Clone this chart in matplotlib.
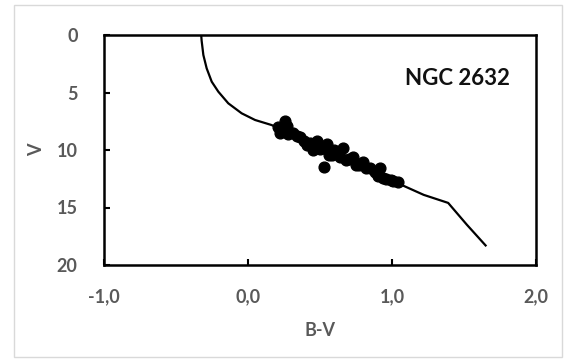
import matplotlib
matplotlib.use("Agg")
import matplotlib.pyplot as plt
from matplotlib.patches import Rectangle

plt.rcParams['font.family'] = ['Lato', 'DejaVu Sans']

# isochrone (B-V, V)
iso_bv = [-0.325, -0.322, -0.31, -0.287, -0.252, -0.206, -0.137, -0.044,
          0.049, 0.164, 0.30, 0.45, 0.60, 0.75, 0.90, 1.06, 1.22, 1.39,
          1.52, 1.65]
iso_v = [0.0, 0.5, 1.74, 2.9, 4.06, 4.93, 5.94, 6.81,
         7.39, 7.83, 8.6, 9.5, 10.4, 11.3, 12.1, 13.0, 13.9, 14.6,
         16.5, 18.3]

# cluster members
star_bv = [0.26, 0.27, 0.21, 0.22, 0.24, 0.28, 0.31, 0.34, 0.36, 0.39, 0.41,
           0.43, 0.45, 0.48, 0.50, 0.52, 0.55, 0.56, 0.58, 0.60, 0.62, 0.64,
           0.66, 0.68, 0.53, 0.70, 0.73, 0.75, 0.77, 0.80, 0.82, 0.85, 0.88,
           0.90, 0.92, 0.94, 0.96, 0.99, 1.01, 1.04]
star_v = [7.5, 7.9, 8.0, 8.5, 8.2, 8.6, 8.5, 8.8, 8.9, 9.2, 9.6,
          9.4, 10.0, 9.2, 9.9, 9.8, 9.5, 10.4, 10.4, 10.0, 10.3, 10.6,
          9.8, 10.9, 11.5, 10.8, 10.6, 11.3, 11.3, 11.0, 11.6, 11.6, 11.9,
          12.3, 11.6, 12.4, 12.5, 12.6, 12.7, 12.8]

xticks = [-1.0, 0.0, 1.0, 2.0]
xtick_labels = ['-1,0', '0,0', '1,0', '2,0']
yticks = [0, 5, 10, 15, 20]

fig = plt.figure(figsize=(5.68, 3.61), dpi=100)
fig.patches.append(Rectangle((14 / 568, 4 / 361), 548 / 568, 352 / 361,
                             transform=fig.transFigure, fill=False,
                             edgecolor='#d9d9d9', linewidth=1))
ax = fig.add_axes([104 / 568, 1 - 265 / 361, 432 / 568, 230 / 361])

ax.plot(iso_bv, iso_v, color='black', linewidth=1.6, zorder=2)
ax.scatter(star_bv, star_v, s=60, color='black', zorder=3)

ax.set_xlim(-1.0, 2.0)
ax.set_ylim(20, 0)
ax.set_xticks(xticks)
ax.set_xticklabels(xtick_labels)
ax.set_yticks(yticks)
ax.tick_params(direction='in', length=4, width=1.5, labelsize=13,
               labelcolor='#595959', color='black')
ax.tick_params(axis='y', pad=19)
ax.tick_params(axis='x', pad=17)
for lbl in ax.get_xticklabels() + ax.get_yticklabels():
    lbl.set_fontweight('bold')
for s in ax.spines.values():
    s.set_linewidth(1.8)

ax.set_xlabel('B-V', fontsize=13, color='#595959', fontweight='bold',
              labelpad=12)
ax.set_ylabel('V', fontsize=13, color='#595959', fontweight='bold',
              labelpad=8)
ax.text(0.94, 0.81, 'NGC 2632', transform=ax.transAxes, ha='right',
        va='center', fontsize=16, fontweight='bold', color='#111111')

fig.savefig('out.png', dpi=100)
